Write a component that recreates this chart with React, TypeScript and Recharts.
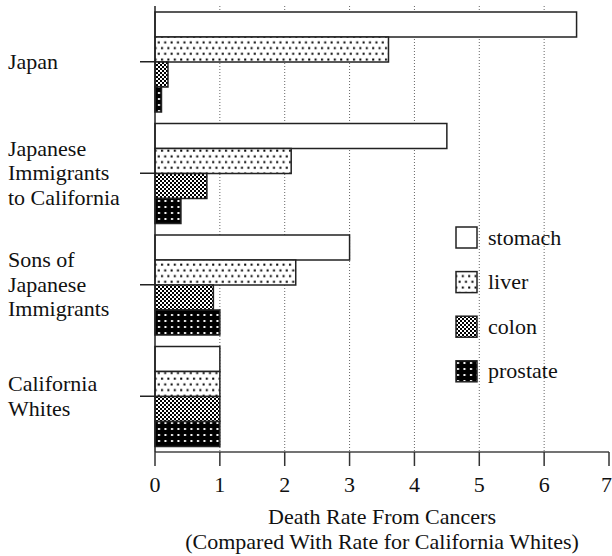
import { Bar, BarChart, CartesianGrid, Customized, XAxis, YAxis } from "recharts";

const groups = [
  "Japan",
  "Japanese Immigrants to California",
  "Sons of Japanese Immigrants",
  "California Whites",
];
const groupLines = [
  ["Japan"],
  ["Japanese", "Immigrants", "to California"],
  ["Sons of", "Japanese", "Immigrants"],
  ["California", "Whites"],
];
const stomach = [6.5, 4.5, 3.0, 1.0];
const liver = [3.6, 2.1, 2.17, 1.0];
const colon = [0.2, 0.8, 0.9, 1.0];
const prostate = [0.1, 0.4, 1.0, 1.0];
const xTicks = [0, 1, 2, 3, 4, 5, 6, 7];

const series = [
  { key: "stomach", label: "stomach", fill: "#fff" },
  { key: "liver", label: "liver", fill: "url(#pat-liver)" },
  { key: "colon", label: "colon", fill: "url(#pat-colon)" },
  { key: "prostate", label: "prostate", fill: "url(#pat-prostate)" },
];

const data = groups.map((name, i) => ({
  name,
  stomach: stomach[i],
  liver: liver[i],
  colon: colon[i],
  prostate: prostate[i],
}));

const FONT = '"Liberation Serif", "Times New Roman", serif';
const INK = "#111";

function Patterns() {
  return (
    <defs>
      <pattern id="pat-liver" width="6.4" height="11.4" patternUnits="userSpaceOnUse">
        <rect width="6.4" height="11.4" fill="#fff" />
        <rect x="1" y="1.5" width="2" height="2" fill="#000" />
        <rect x="4.2" y="7.2" width="2" height="2" fill="#000" />
      </pattern>
      <pattern id="pat-colon" width="4" height="4" patternUnits="userSpaceOnUse">
        <rect width="4" height="4" fill="#fff" />
        <rect x="0" y="0" width="2" height="2" fill="#000" />
        <rect x="2" y="2" width="2" height="2" fill="#000" />
      </pattern>
      <pattern id="pat-prostate" width="6.5" height="6" patternUnits="userSpaceOnUse">
        <rect width="6.5" height="6" fill="#000" />
        <rect x="2" y="2" width="2" height="2" fill="#fff" />
      </pattern>
    </defs>
  );
}

function GroupTick(props: any) {
  const { y, payload, index } = props;
  const lines = groupLines[index] ?? [payload.value];
  const lh = 24.5;
  const first = y - ((lines.length - 1) * lh) / 2 + 7;
  return (
    <text x={8} y={first} fontSize={22} fontFamily={FONT} fill={INK} textAnchor="start">
      {lines.map((l: string, i: number) => (
        <tspan key={l} x={8} y={first + i * lh}>
          {l}
        </tspan>
      ))}
    </text>
  );
}

// legend sits inside the plot, right of the shorter bars
function LegendBox() {
  return (
    <g fontFamily={FONT} fontSize={22} fill={INK}>
      {series.map((s, i) => {
        const cy = 237.5 + i * 44.6;
        return (
          <g key={s.key}>
            <rect
              x={456}
              y={cy - 10.5}
              width={21}
              height={21}
              fill={s.fill}
              stroke="#222"
              strokeWidth={1.5}
            />
            <text x={488} y={cy + 7} fill={INK}>
              {s.label}
            </text>
          </g>
        );
      })}
    </g>
  );
}

function AxisTitle(props: any) {
  const vb = props.viewBox ?? {};
  const cx = (vb.x ?? 155) + (vb.width ?? 454) / 2;
  return (
    <text x={cx} textAnchor="middle" fontFamily={FONT} fontSize={22} fill={INK}>
      <tspan x={cx} y={524}>
        Death Rate From Cancers
      </tspan>
      <tspan x={cx} y={549}>
        (Compared With Rate for California Whites)
      </tspan>
    </text>
  );
}

export default function App() {
  return (
    <div style={{ position: "absolute", left: 0, top: 0, background: "#fff" }}>
      <BarChart
        width={612}
        height={556}
        data={data}
        layout="vertical"
        margin={{ top: 6, right: 3, bottom: 0, left: 0 }}
        barGap={0}
        barSize={25}
      >
        <Patterns />
        <CartesianGrid
          horizontal={false}
          stroke="#666"
          strokeDasharray="1 2"
          verticalValues={[1, 2, 3, 4, 5, 6]}
        />
        <XAxis
          type="number"
          domain={[0, 7]}
          ticks={xTicks}
          height={104}
          tickSize={14}
          tickMargin={10}
          tick={{ fontSize: 22, fontFamily: FONT, fill: INK }}
          tickLine={{ stroke: "#333", strokeWidth: 1.5 }}
          axisLine={{ stroke: "#444", strokeWidth: 1.5 }}
          label={<AxisTitle />}
        />
        <XAxis
          xAxisId="top"
          orientation="top"
          type="number"
          domain={[0, 7]}
          height={0}
          tick={false}
          tickLine={false}
          axisLine={{ stroke: "#444", strokeWidth: 1.5 }}
        />
        <YAxis
          type="category"
          dataKey="name"
          width={155}
          tickSize={15}
          tick={<GroupTick />}
          tickLine={{ stroke: "#222", strokeWidth: 1.5 }}
          axisLine={{ stroke: "#222", strokeWidth: 1.5 }}
        />
        <YAxis
          yAxisId="right"
          orientation="right"
          type="category"
          dataKey="name"
          width={0}
          tick={false}
          tickLine={false}
          axisLine={{ stroke: "#111", strokeWidth: 1.5 }}
        />
        {series.map((s) => (
          <Bar
            key={s.key}
            dataKey={s.key}
            name={s.label}
            fill={s.fill}
            stroke="#222"
            strokeWidth={1.5}
            isAnimationActive={false}
          />
        ))}
        <Customized component={<LegendBox />} />
      </BarChart>
    </div>
  );
}
